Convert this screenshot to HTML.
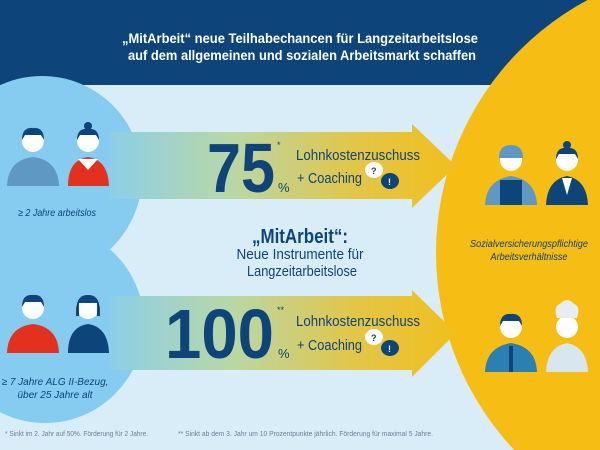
<!DOCTYPE html>
<html><head><meta charset="utf-8"><style>
html,body{margin:0;padding:0;width:600px;height:450px;overflow:hidden;background:#d9edf9}
svg{display:block;position:absolute;left:0;top:0}
text{font-family:"Liberation Sans",sans-serif}
</style></head><body>
<svg width="600" height="450" viewBox="0 0 600 450" xmlns="http://www.w3.org/2000/svg">
<defs>
<linearGradient id="ag" x1="0" x2="1" y1="0" y2="0">
<stop offset="0" stop-color="#8ccfe8"/>
<stop offset="0.35" stop-color="#b9d7a6"/>
<stop offset="0.7" stop-color="#e2c64a"/>
<stop offset="1" stop-color="#f1bf1c"/>
</linearGradient>
</defs>
<rect width="600" height="450" fill="#d9edf9"/>
<rect width="600" height="85" fill="#0d4479"/>
<circle cx="723" cy="253" r="287" fill="#f6bd14"/>
<circle cx="42" cy="176" r="100" fill="#86ccf0"/>
<circle cx="45" cy="324" r="99" fill="#86ccf0"/>
<path d="M110 132 H412 V124 L456 166 L412 208 V199 H110 Z" fill="url(#ag)"/>
<path d="M110 296 H412 V290 L456 333 L412 377 V370 H110 Z" fill="url(#ag)"/>
<text x="300" y="43" fill="#fff" font-size="14" text-anchor="middle" font-weight="bold" textLength="356" lengthAdjust="spacingAndGlyphs">„MitArbeit“ neue Teilhabechancen für Langzeitarbeitslose</text>
<text x="302" y="60" fill="#fff" font-size="14" text-anchor="middle" font-weight="bold" textLength="348" lengthAdjust="spacingAndGlyphs">auf dem allgemeinen und sozialen Arbeitsmarkt schaffen</text>
<text x="207" y="192" fill="#0d4479" font-size="70" font-weight="bold" textLength="68" lengthAdjust="spacingAndGlyphs">75</text>
<text x="278" y="192" fill="#0d4479" font-size="13">%</text>
<text x="277" y="148" fill="#0d4479" font-size="9">*</text>
<text x="296" y="160" fill="#0d4479" font-size="14.5" textLength="124" lengthAdjust="spacingAndGlyphs">Lohnkostenzuschuss</text>
<text x="297" y="183" fill="#0d4479" font-size="14.5" textLength="65" lengthAdjust="spacingAndGlyphs">+ Coaching</text>
<text x="165" y="358" fill="#0d4479" font-size="70" font-weight="bold" textLength="109" lengthAdjust="spacingAndGlyphs">100</text>
<text x="278" y="358" fill="#0d4479" font-size="13">%</text>
<text x="277" y="313" fill="#0d4479" font-size="9">**</text>
<text x="296" y="326" fill="#0d4479" font-size="14.5" textLength="124" lengthAdjust="spacingAndGlyphs">Lohnkostenzuschuss</text>
<text x="297" y="350" fill="#0d4479" font-size="14.5" textLength="65" lengthAdjust="spacingAndGlyphs">+ Coaching</text>
<g>
<ellipse cx="374" cy="170" rx="9" ry="8" fill="#fff"/><text x="371" y="174" font-size="9" fill="#0d4479" font-weight="bold">?</text>
<ellipse cx="390" cy="181" rx="9" ry="8" fill="#0d4479"/><text x="388" y="185" font-size="9" fill="#fff" font-weight="bold">!</text>
</g>
<g>
<ellipse cx="374" cy="337" rx="9" ry="8" fill="#fff"/><text x="371" y="341" font-size="9" fill="#0d4479" font-weight="bold">?</text>
<ellipse cx="390" cy="348" rx="9" ry="8" fill="#0d4479"/><text x="388" y="352" font-size="9" fill="#fff" font-weight="bold">!</text>
</g>
<text x="300" y="243" fill="#0d4479" font-size="20" font-weight="bold" text-anchor="middle" textLength="96" lengthAdjust="spacingAndGlyphs">„MitArbeit“:</text>
<text x="300" y="259" fill="#0d4479" font-size="14.5" text-anchor="middle" textLength="127" lengthAdjust="spacingAndGlyphs">Neue Instrumente für</text>
<text x="302" y="276" fill="#0d4479" font-size="14.5" text-anchor="middle" textLength="110" lengthAdjust="spacingAndGlyphs">Langzeitarbeitslose</text>
<text x="18" y="216" fill="#0d4479" font-size="10" font-style="italic" textLength="78" lengthAdjust="spacingAndGlyphs">≥ 2 Jahre arbeitslos</text>
<text x="55" y="385" fill="#0d4479" font-size="10" font-style="italic" text-anchor="middle">≥ 7 Jahre ALG II-Bezug,</text>
<text x="55" y="398" fill="#0d4479" font-size="10" font-style="italic" text-anchor="middle">über 25 Jahre alt</text>
<text x="529" y="247" fill="#0d4479" font-size="10" font-style="italic" text-anchor="middle" textLength="118" lengthAdjust="spacingAndGlyphs">Sozialversicherungspflichtige</text>
<text x="529" y="260" fill="#0d4479" font-size="10" font-style="italic" text-anchor="middle" textLength="77" lengthAdjust="spacingAndGlyphs">Arbeitsverhältnisse</text>
<text x="5" y="436" fill="#6a7f93" font-size="7" textLength="143" lengthAdjust="spacingAndGlyphs">* Sinkt im 2. Jahr auf 50%. Förderung für 2 Jahre.</text>
<text x="178" y="436" fill="#6a7f93" font-size="7" textLength="255" lengthAdjust="spacingAndGlyphs">** Sinkt ab dem 3. Jahr um 10 Prozentpunkte jährlich. Förderung für maximal 5 Jahre.</text>
<g>
<path d="M7 186 Q8 160 33 157 Q58 160 59 186 Z" fill="#5f98c2"/>
<circle cx="33" cy="141" r="11" fill="#fff"/><path d="M22 140 Q22 127 33 128 Q44 127 44 140 L41 135 L25 135Z" fill="#0d4479"/>
<path d="M68 186 Q68 160 88 157 Q108 160 109 186Z" fill="#e2321f"/><path d="M78 159 L88 170 L98 159Z" fill="#fff"/>
<circle cx="88" cy="141" r="11" fill="#fff"/><path d="M77 140 Q77 128 88 129 Q99 128 99 140 L96 135 L80 135Z" fill="#0d4479"/><circle cx="88" cy="126" r="4" fill="#0d4479"/>
</g>
<g>
<path d="M7 353 Q8 327 33 324 Q58 327 59 353 Z" fill="#e2321f"/>
<circle cx="33" cy="308" r="11" fill="#fff"/><path d="M22 307 Q22 294 33 295 Q44 294 44 307 L41 302 L25 302Z" fill="#0d4479"/>
<path d="M68 353 Q68 327 88 324 Q108 327 109 353Z" fill="#0d4479"/>
<circle cx="88" cy="308" r="11" fill="#fff"/><path d="M76 316 Q75 294 88 295 Q101 294 100 316 L97 316 L97 303 L79 303 L79 316Z" fill="#0d4479"/>
</g>
<g>
<path d="M485 205 Q486 180 511 176 Q536 180 537 205 Z" fill="#5f98c2"/><rect x="500" y="180" width="22" height="25" fill="#0d4479"/>
<circle cx="511" cy="160" r="11" fill="#fff"/><path d="M499 158 Q499 145 511 145 Q523 145 523 158Z" fill="#5f98c2"/>
<path d="M546 205 Q547 180 567 176 Q587 180 588 205 Z" fill="#0d4479"/><path d="M562 178 L567 195 L572 178Z" fill="#fff"/>
<circle cx="567" cy="160" r="11" fill="#fff"/><path d="M556 159 Q556 147 567 148 Q578 147 578 159 L575 154 L559 154Z" fill="#0d4479"/><circle cx="567" cy="145" r="4" fill="#0d4479"/>
</g>
<g>
<path d="M485 372 Q486 347 511 343 Q536 347 537 372 Z" fill="#2a7fb3"/><rect x="509" y="346" width="4" height="26" fill="#0d4479"/>
<circle cx="511" cy="327" r="11" fill="#fff"/><path d="M500 326 Q500 313 511 314 Q522 313 522 326 L519 321 L503 321Z" fill="#0d4479"/>
<path d="M546 372 Q547 347 567 343 Q587 347 588 372 Z" fill="#d8e6ef"/>
<circle cx="567" cy="327" r="11" fill="#fff"/><path d="M557 318 Q553 306 560 304 Q567 296 574 304 Q581 306 577 318Z" fill="#e6eef3"/>
</g>
</svg>
</body></html>
